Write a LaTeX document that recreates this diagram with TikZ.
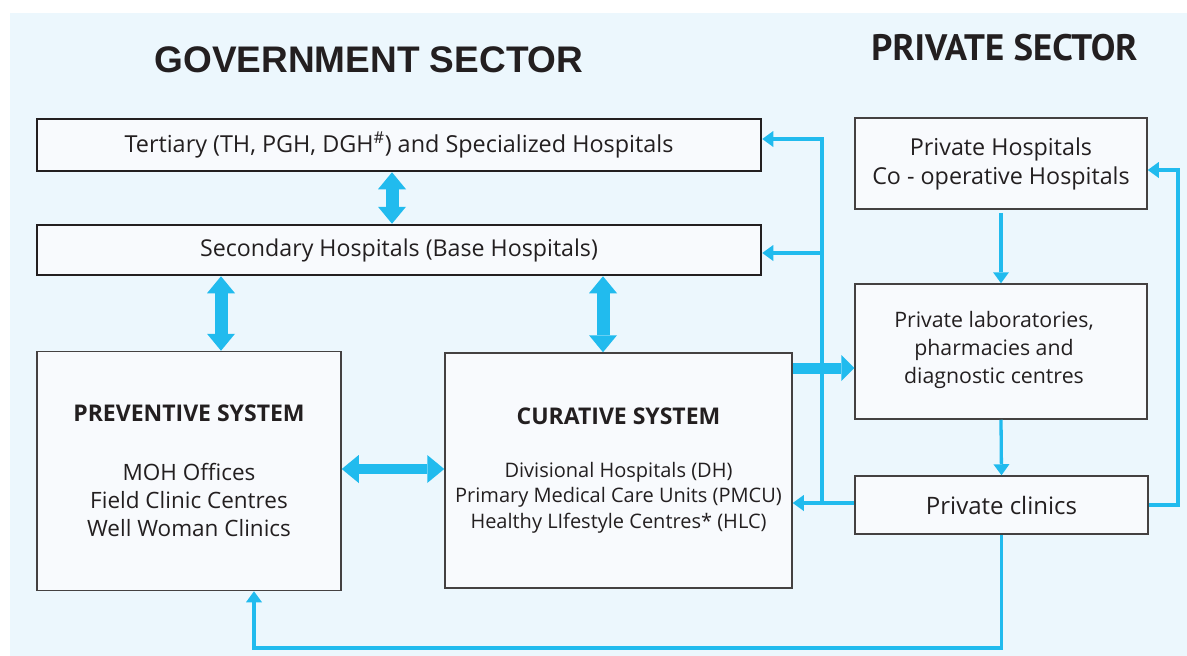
\documentclass[tikz,border=0pt]{standalone}
\usepackage{fontspec}
\usepackage{graphicx}
\setmainfont{Open Sans}
\newfontfamily\titlefont{Liberation Sans}
\newfontfamily\ptfont{PT Sans}
\usetikzlibrary{arrows.meta,calc}
\definecolor{bgc}{RGB}{236,247,253}
\definecolor{boxfill}{RGB}{248,250,253}
\definecolor{arr}{RGB}{33,187,238}
\definecolor{txt}{RGB}{35,31,32}
\begin{document}
\begin{tikzpicture}[x=1pt,y=-1pt,
  box/.style={draw=txt!85, line width=1.5pt, fill=boxfill, align=center, inner sep=0pt, text=txt},
  hbox/.style={box, draw=txt, line width=2.5pt},
  lbl/.style={align=center, inner sep=0pt, text=txt},
  thinarr/.style={draw=arr, line width=3.3pt, -{Triangle[length=11pt,width=16pt,line width=0pt]}},
  vbig/.style={draw=arr, line width=13pt, {Triangle[length=17pt,width=28pt,line width=0pt]}-{Triangle[length=17pt,width=28pt,line width=0pt]}},
  hbig/.style={draw=arr, line width=10pt, {Triangle[length=17pt,width=28pt,line width=0pt]}-{Triangle[length=17pt,width=28pt,line width=0pt]}},
  fwd/.style={draw=arr, line width=11pt, -{Triangle[length=13pt,width=26pt,line width=0pt]}},
]
\useasboundingbox (0,0) rectangle (1187,656);
\fill[bgc] (10,13) rectangle (1187,656);

% titles
\node[text=txt, inner sep=0pt, font=\titlefont\bfseries\fontsize{37}{37}\selectfont] (gov) at (369,60) {GOVERNMENT SECTOR};
\node[text=txt, inner sep=0pt, font=\ptfont\bfseries\fontsize{36.8}{36.8}\selectfont] (priv) at (1004.5,48) {PRIVATE SECTOR};

% government boxes
\node[hbox, minimum width=724pt, minimum height=52pt, font=\fontsize{23.4}{27}\selectfont] (ter) at (399,145)
  {Tertiary (TH, PGH, DGH\textsuperscript{\#}) and Specialized Hospitals};
\node[hbox, minimum width=724pt, minimum height=50pt, font=\fontsize{23.2}{27}\selectfont] (sec) at (399,250)
  {Secondary Hospitals (Base Hospitals)};
\node[box, minimum width=304pt, minimum height=239pt, font=\fontsize{22.5}{28}\selectfont] (pre) at (189,471)
  {{\fontsize{23}{28}\selectfont\bfseries PREVENTIVE SYSTEM}\\[31pt] MOH Offices\\ Field Clinic Centres\\ Well Woman Clinics};
\node[box, minimum width=347pt, minimum height=235pt, font=\fontsize{20}{25.5}\selectfont] (cur) at (618.5,470.5)
  {{\fontsize{23}{25.5}\selectfont\bfseries CURATIVE SYSTEM}\\[27.5pt] Divisional Hospitals (DH)\\ Primary Medical Care Units (PMCU)\\ Healthy LIfestyle Centres* (HLC)};

% private boxes
\node[box, minimum width=292pt, minimum height=91pt, font=\fontsize{23.3}{29}\selectfont] (ph) at (1001,163.5)
  {Private Hospitals\\ Co - operative Hospitals};
\node[box, minimum width=292pt, minimum height=135pt] (lab) at (1001,351.5) {};
\node[lbl, font=\fontsize{21.3}{28}\selectfont] (labt) at (994,350)
  {Private laboratories,\\ pharmacies and\\ diagnostic centres};
\node[box, minimum width=293pt, minimum height=58pt, font=\fontsize{24}{28}\selectfont] (cli) at (1001.5,505)
  {Private clinics};

% helper coordinates
\coordinate (a0) at (392,0);
\coordinate (a1) at (221,0);
\coordinate (a2) at (603,0);
\coordinate (h1) at (0,469);
\coordinate (f1) at (0,368);
\coordinate (jb) at (822,503);
\coordinate (jt) at (822,139);
\coordinate (js) at (822,253);
\coordinate (rt) at (1178,170);
\coordinate (bk) at (254,648);

% thick arrows
\draw[vbig] (ter.south -| a0) -- (sec.north -| a0);
\draw[vbig] (sec.south -| a1) -- (pre.north -| a1);
\draw[vbig] (sec.south -| a2) -- (cur.north -| a2);
\draw[hbig] (pre.east |- h1) -- (cur.west |- h1);
\draw[fwd] (cur.east |- f1) -- (lab.west |- f1);

% thin connectors
\draw[thinarr] (cli.west |- jb) -- (jb -| cur.east);
\draw[thinarr] (jb) -- (jt) -- (jt -| ter.east);
\draw[thinarr] (js) -- (js -| sec.east);
\draw[thinarr] ([yshift=-3pt]ph.south) -- (lab.north);
\draw[thinarr] (lab.south) -- (cli.north);
\draw[thinarr] (cli.east) -| (rt) -- (rt -| ph.east);
\draw[thinarr] (cli.south) |- (bk) -- (bk |- pre.south);
\end{tikzpicture}
\end{document}
